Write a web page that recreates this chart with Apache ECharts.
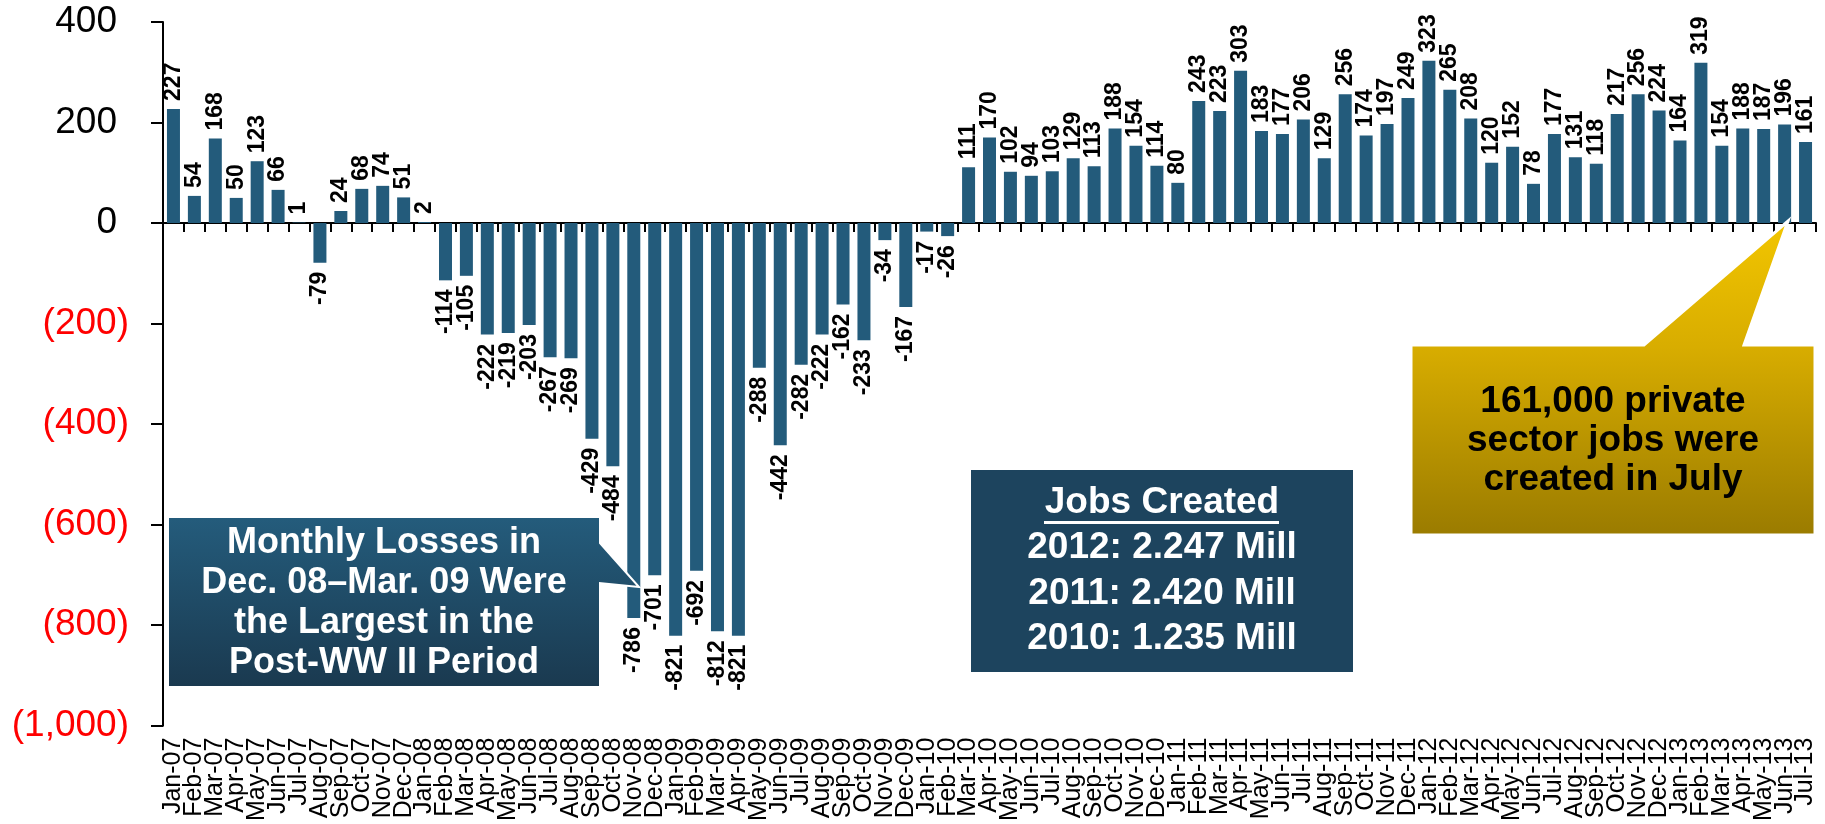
<!DOCTYPE html>
<html><head><meta charset="utf-8">
<script src="https://cdn.jsdelivr.net/npm/echarts@6/dist/echarts.min.js"></script>
<style>html,body{margin:0;padding:0;background:#fff}#c{width:1825px;height:824px}</style>
</head><body><div id="c"></div>
<script>
const months = ['Jan-07','Feb-07','Mar-07','Apr-07','May-07','Jun-07','Jul-07','Aug-07','Sep-07','Oct-07','Nov-07','Dec-07',
'Jan-08','Feb-08','Mar-08','Apr-08','May-08','Jun-08','Jul-08','Aug-08','Sep-08','Oct-08','Nov-08','Dec-08',
'Jan-09','Feb-09','Mar-09','Apr-09','May-09','Jun-09','Jul-09','Aug-09','Sep-09','Oct-09','Nov-09','Dec-09',
'Jan-10','Feb-10','Mar-10','Apr-10','May-10','Jun-10','Jul-10','Aug-10','Sep-10','Oct-10','Nov-10','Dec-10',
'Jan-11','Feb-11','Mar-11','Apr-11','May-11','Jun-11','Jul-11','Aug-11','Sep-11','Oct-11','Nov-11','Dec-11',
'Jan-12','Feb-12','Mar-12','Apr-12','May-12','Jun-12','Jul-12','Aug-12','Sep-12','Oct-12','Nov-12','Dec-12',
'Jan-13','Feb-13','Mar-13','Apr-13','May-13','Jun-13','Jul-13'];
const jobs = [227,54,168,50,123,66,1,-79,24,68,74,51,
2,-114,-105,-222,-219,-203,-267,-269,-429,-484,-786,-701,
-821,-692,-812,-821,-288,-442,-282,-222,-162,-233,-34,-167,
-17,-26,111,170,102,94,103,129,113,188,154,114,
80,243,223,303,183,177,206,129,256,174,197,249,
323,265,208,120,152,78,177,131,118,217,256,224,
164,319,154,188,187,196,161];
const yMin = -1000, yMax = 400, yStep = 200;
const lossNote = ['Monthly Losses in','Dec. 08\u2013Mar. 09 Were','the Largest in the','Post-WW II Period'];
const jobsTitle = 'Jobs Created';
const jobsLines = ['2012: 2.247 Mill','2011: 2.420 Mill','2010: 1.235 Mill'];
const julyNote = ['161,000 private','sector jobs were','created in July'];

const FF = "'Liberation Sans', Arial, sans-serif";
const chart = echarts.init(document.getElementById('c'), null, {renderer:'canvas'});
function fmt(n){ return n.toString().replace(/\B(?=(\d{3})+(?!\d))/g, ','); }

function txt(text, x, y, size, color){
  return {type:'text', z:120, style:{text:text, x:x, y:y, fill:color, font:'bold '+size+'px '+FF,
    align:'center', verticalAlign:'middle', textAlign:'center', textVerticalAlign:'middle'}};
}

const graphics = [];
// loss callout
graphics.push({type:'polygon', z:100, shape:{points:[[168,517],[600,517],[600,543],[639,587],[600,583],[600,687],[168,687]]},
  style:{fill:new echarts.graphic.LinearGradient(0,0,0,1,[{offset:0,color:'#245c7c'},{offset:1,color:'#1a394f'}]), stroke:'#fff', lineWidth:2}});
lossNote.forEach((t,i)=>graphics.push(txt(t,384,543+i*40,36,'#fff')));
// jobs box
graphics.push({type:'rect', z:100, shape:{x:971,y:470,width:382,height:202}, style:{fill:'#1d445e'}});
graphics.push(txt(jobsTitle,1162,503,37,'#fff'));
graphics.push({type:'rect', z:120, shape:{x:1044,y:521,width:235,height:3}, style:{fill:'#fff'}});
jobsLines.forEach((t,i)=>graphics.push(txt(t,1162,548+i*45.5,37,'#fff')));
// july callout
graphics.push({type:'polygon', z:100, shape:{points:[[1411,345],[1644,345],[1788,221],[1744,345],[1815,345],[1815,535],[1411,535]]},
  style:{fill:new echarts.graphic.LinearGradient(0,0,0,1,[{offset:0,color:'#f3c600'},{offset:0.4,color:'#d8ad00'},{offset:1,color:'#9a7b00'}]), stroke:'#fff', lineWidth:3, lineJoin:'miter'}});
julyNote.forEach((t,i)=>graphics.push(txt(t,1613,402+i*39,37,'#000')));

const option = {
  backgroundColor:'#fff',
  animation:false,
  grid:{left:163, right:9, top:22, bottom:91, containLabel:false},
  xAxis:[
    {type:'category', data:months, position:'bottom', axisLine:{show:false, onZero:false}, axisTick:{show:false},
     axisLabel:{interval:0, rotate:90, fontSize:25, margin:12, color:'#000', fontFamily:FF}},
    {type:'category', data:months, position:'bottom', axisLine:{onZero:true, lineStyle:{color:'#000', width:2}},
     axisTick:{show:true, interval:0, length:9, lineStyle:{color:'#000', width:2}}, axisLabel:{show:false}}
  ],
  yAxis:{type:'value', min:yMin, max:yMax, interval:yStep,
    axisLine:{show:true, lineStyle:{color:'#000', width:2}},
    axisTick:{show:true, length:12, lineStyle:{color:'#000', width:2}},
    splitLine:{show:false},
    axisLabel:{margin:34, fontFamily:FF,
      formatter:v => v<0 ? '{n|('+fmt(-v)+')}' : '{p|'+fmt(v)+'}',
      rich:{n:{color:'#ff0000', fontSize:37, fontFamily:FF}, p:{color:'#000', fontSize:37, fontFamily:FF, padding:[0,12,0,0]}}}
  },
  series:[{type:'bar', xAxisIndex:0, barWidth:13, itemStyle:{color:'#235b7b'},
    label:{show:true, rotate:90, verticalAlign:'middle', fontSize:23, fontWeight:'bold', color:'#000', fontFamily:FF},
    data:jobs.map(v => ({value:v, label: v>=0 ? {position:'top', align:'left', distance:8} : {position:'bottom', align:'right', distance:9}}))
  }],
  graphic:graphics
};
chart.setOption(option);
</script></body></html>
